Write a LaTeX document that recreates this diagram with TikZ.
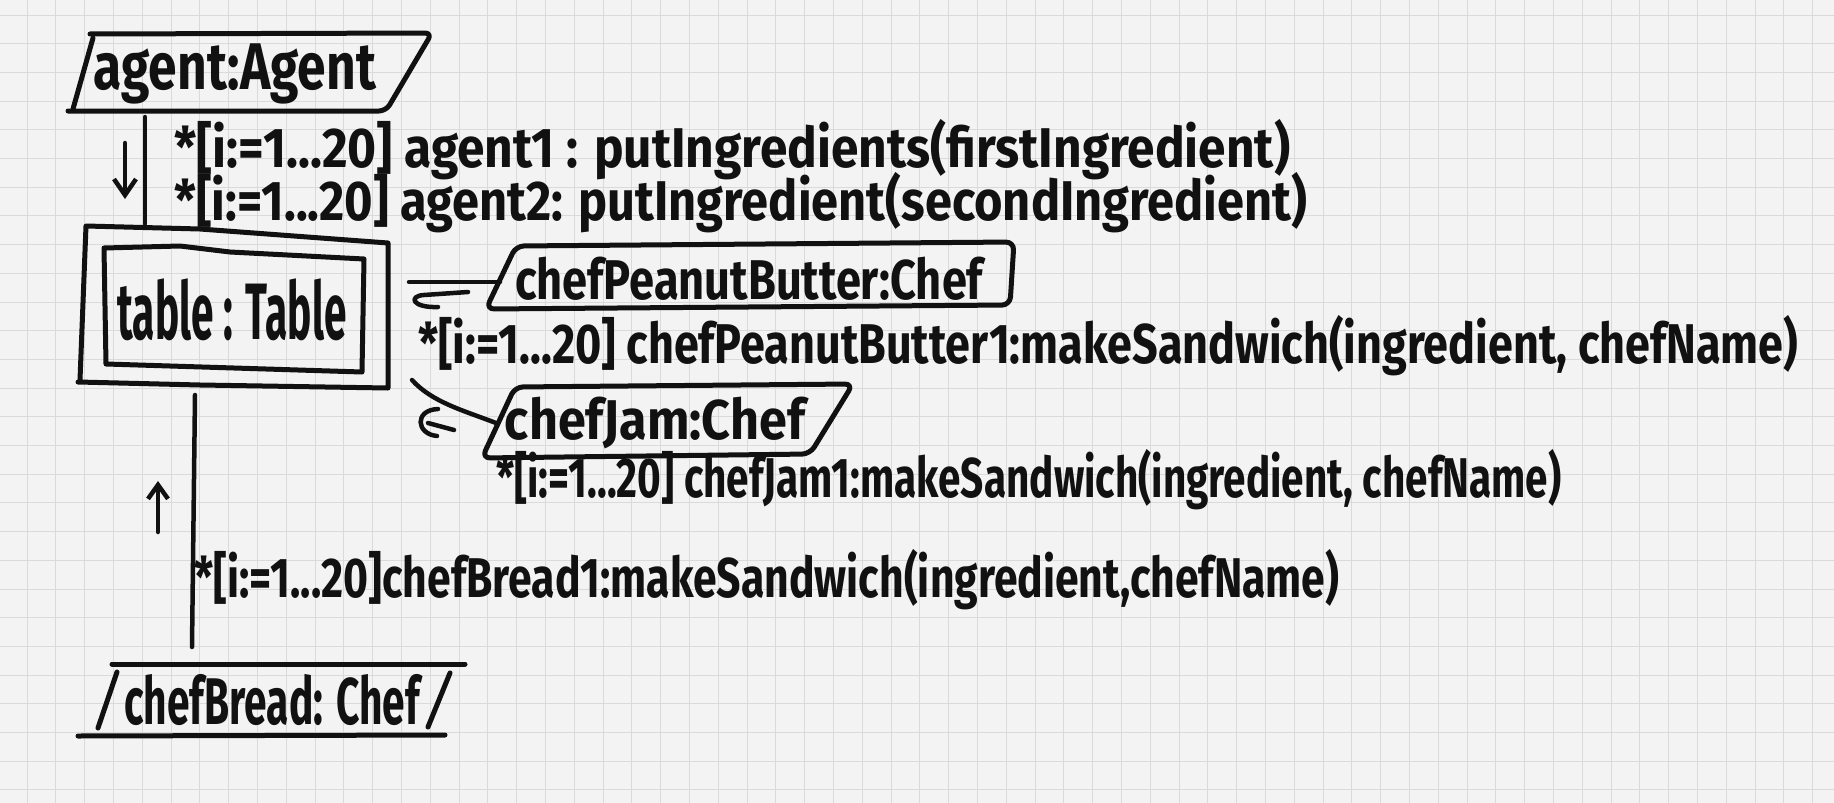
\documentclass[tikz,border=0pt]{standalone}
\usepackage{graphicx}
\usepackage{fontspec}
\setmainfont{Fira Sans}
\usetikzlibrary{arrows.meta}
\definecolor{paper}{HTML}{F3F3F3}
\definecolor{gridc}{HTML}{DADADA}
\definecolor{ink}{HTML}{111111}
\newcommand{\fitw}[2]{\resizebox{#1}{\height}{#2}}
\begin{document}
\begin{tikzpicture}[x=1pt,y=-1pt,
  pen/.style={draw=ink,line width=5pt,line cap=round,line join=round},
  conn/.style={draw=ink,line width=4.5pt,line cap=round},
  lbl/.style={inner sep=0pt,text=ink,font=\bfseries\fontsize{66}{68}\selectfont},
  smalllbl/.style={lbl,font=\bfseries\fontsize{56}{58}\selectfont},
  msg/.style={inner sep=0pt,text=ink,anchor=west,font=\bfseries\fontsize{56}{58}\selectfont},
  tiparrow/.style={draw=ink,line width=4.5pt,line cap=round,line join=round}
]
\fill[paper] (0,0) rectangle (1834,803);
\useasboundingbox (0,0) rectangle (1834,803);
\foreach \i in {0,...,63} \draw[gridc,line width=1pt] ({27+28.8*\i},0) -- ({27+28.8*\i},803);
\foreach \j in {0,...,27} \draw[gridc,line width=1pt] (0,{15+28.7*\j}) -- (1834,{15+28.7*\j});

% agent
\node[lbl] (agent) at (235,74) {\fitw{282pt}{agent:Agent}};
\draw[pen,rounded corners=7pt] (90,34) -- (432,33) -- (386,111) -- (68,111);
\draw[pen] (93,38) -- (73,109);

% table
\node[lbl,font=\bfseries\fontsize{80}{82}\selectfont] (table) at (232,310) {\fitw{229pt}{table : Table}};
\draw[pen] (80,380) -- (86,226) -- (200,229) -- (388,243) -- (388,388) -- (200,385) -- (78,382);
\draw[pen] (104,248) -- (180,246) -- (230,252) -- (364,259) -- (362,372) -- (106,364) -- cycle;

% chefBread
\node[lbl] (bread) at (272,700) {\fitw{295pt}{chefBread: Chef}};
\draw[pen] (112,664) -- (465,664);
\draw[pen] (78,736) -- (445,735);
\draw[pen] (117,672) -- (98,728);
\draw[pen] (450,673) -- (428,727);

% chefPeanutButter
\node[smalllbl] (pb) at (749,279) {\fitw{468pt}{chefPeanutButter:Chef}};
\draw[pen,rounded corners=8pt] (516,246) -- (1014,242) -- (1010,305) -- (486,309) -- cycle;

% chefJam
\node[smalllbl] (jam) at (655,423) {\fitw{300pt}{chefJam:Chef}};
\draw[pen,rounded corners=8pt] (515,387) -- (853,384) -- (810,454) -- (482,458) -- cycle;

% connector end points
\coordinate (aOut) at (145,117);
\coordinate (tTop) at (145,224);
\coordinate (tBot) at (195,395);
\coordinate (bTop) at (192,647);
\coordinate (tR1) at (409,282);
\coordinate (pbL) at (500,282);
\coordinate (tR2) at (412,380);
\coordinate (jamL) at (496,423);

\draw[conn] (aOut) -- (tTop);
\draw[conn] (tBot) -- (bTop);
\draw[conn] (tR1) -- (pbL);
\draw[conn] (tR2) .. controls (432,402) and (462,410) .. (jamL);

% direction arrows
\coordinate (d1s) at (125,143); \coordinate (d1e) at (125,199);
\coordinate (d2s) at (158,532); \coordinate (d2e) at (158,481);
\draw[tiparrow,-{Straight Barb[length=16pt,width=22pt]}] (d1s) -- (d1e);
\draw[tiparrow,-{Straight Barb[length=14pt,width=20pt]}] (d2s) -- (d2e);
\coordinate (d3s) at (468,292); \coordinate (d3e) at (424,295);
\draw[tiparrow] (d3s) -- (d3e) .. controls (408,296) and (412,308) .. (438,307);
\coordinate (d4s) at (454,430); \coordinate (d4e) at (428,423);
\draw[tiparrow] (d4s) -- (d4e);
\draw[tiparrow] (438,409) .. controls (414,410) and (416,434) .. (437,436);

% messages
\node[msg] (m1) at (174,150) {\fitw{1116pt}{*[i:=1...20] agent1 : putIngredients(firstIngredient)}};
\node[msg] (m2) at (174,203) {\fitw{1133pt}{*[i:=1...20] agent2: putIngredient(secondIngredient)}};
\node[msg] (m3) at (418,346) {\fitw{1380pt}{*[i:=1...20] chefPeanutButter1:makeSandwich(ingredient, chefName)}};
\node[msg] (m4) at (496,480) {\fitw{1065pt}{*[i:=1...20] chefJam1:makeSandwich(ingredient, chefName)}};
\node[msg] (m5) at (194,580) {\fitw{1145pt}{*[i:=1...20]chefBread1:makeSandwich(ingredient,chefName)}};
\end{tikzpicture}
\end{document}
